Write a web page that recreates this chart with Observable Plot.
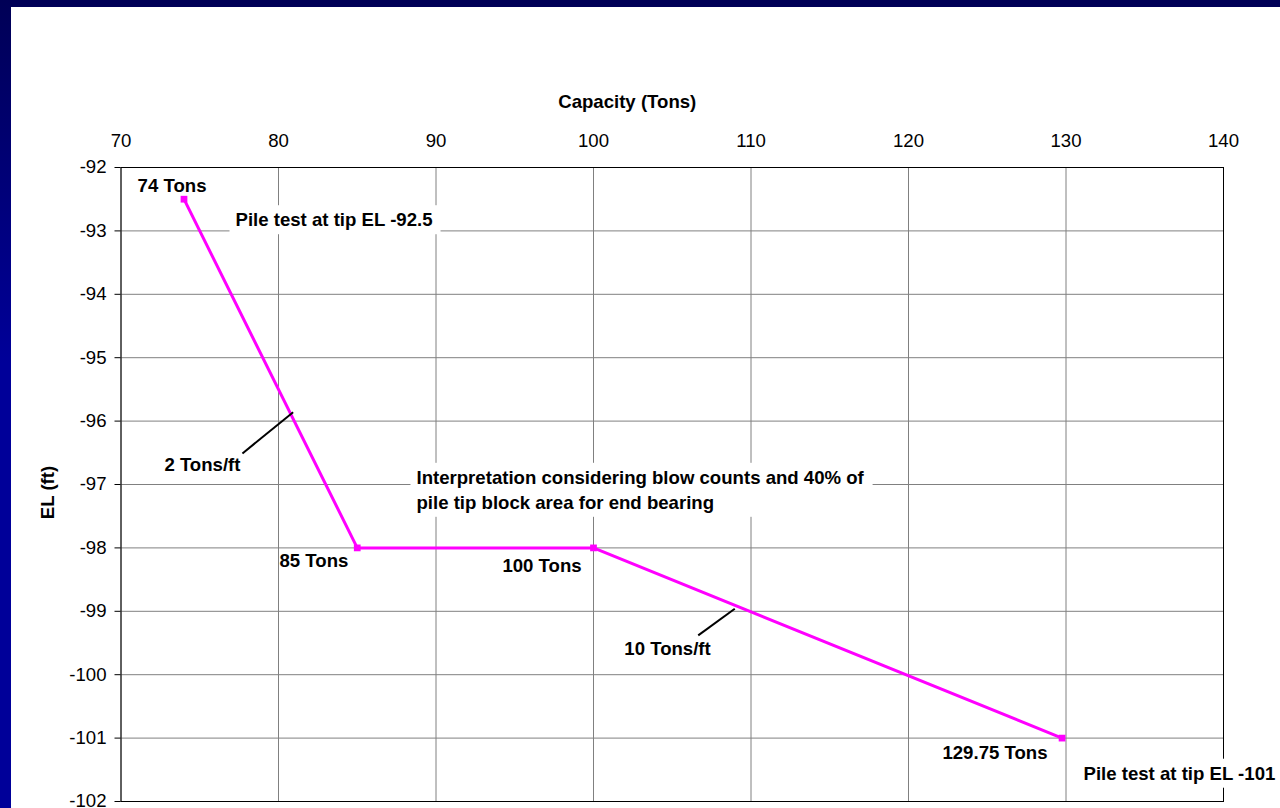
<!DOCTYPE html>
<html>
<head>
<meta charset="utf-8">
<script src="https://cdn.jsdelivr.net/npm/d3@7"></script>
<script src="https://cdn.jsdelivr.net/npm/@observablehq/plot@0.6"></script>
<style>
  html, body { margin: 0; padding: 0; }
  body {
    width: 1280px; height: 808px; overflow: hidden;
    background: linear-gradient(to bottom, #000056 0%, #000099 45%, #000099 100%);
  }
  #chart {
    position: absolute; left: 11px; top: 7px;
    width: 1269px; height: 801px; background: #ffffff;
  }
  #chart svg { display: block; overflow: visible; }
</style>
</head>
<body>
<div id="chart"></div>
<script>
// Pile capacity versus tip elevation
const capacity = [74, 85, 100, 129.75];
const elevation = [-92.5, -98, -98, -101];

// Axis ticks
const xTicks = [70, 80, 90, 100, 110, 120, 130, 140];
const yTicks = [-92, -93, -94, -95, -96, -97, -98, -99, -100, -101, -102];

// Value labels beside the points
const pointLabels = ["74 Tons", "85 Tons", "100 Tons", "129.75 Tons"];
const pointLabelX = [73.24, 82.25, 96.73, 125.49];
const pointLabelY = [-92.29, -98.21, -98.29, -101.23];

// Boxed notes (left-aligned)
const notes = [
  "Pile test at tip EL -92.5",
  "Interpretation considering blow counts and 40% of\npile tip block area for end bearing",
  "Pile test at tip EL -101"
];
const noteX = [77.27, 88.76, 131.11];
const noteY = [-92.80, -97.06, -101.53];

// Slope call-outs with leader lines
const slopeLabels = ["2 Tons/ft", "10 Tons/ft"];
const slopeLabelX = [75.17, 104.7];
const slopeLabelY = [-96.70, -99.60];
const leaderX1 = [77.71, 106.65];
const leaderY1 = [-96.51, -99.38];
const leaderX2 = [80.93, 108.97];
const leaderY2 = [-95.86, -98.96];

const xTitle = "Capacity (Tons)";
const yTitle = "EL (ft)";

const curve = capacity.map((c, i) => ({capacity: c, elevation: elevation[i]}));
const pts = pointLabels.map((t, i) => ({text: t, x: pointLabelX[i], y: pointLabelY[i]}));
const noteRows = notes.map((t, i) => ({text: t, x: noteX[i], y: noteY[i]}));
const slopeRows = slopeLabels.map((t, i) => ({text: t, x: slopeLabelX[i], y: slopeLabelY[i]}));
const leaders = leaderX1.map((x, i) => ({x1: x, y1: leaderY1[i], x2: leaderX2[i], y2: leaderY2[i]}));

const FONT = "'Liberation Sans', Arial, Helvetica, sans-serif";
const SIZE = 18.6;

const chart = Plot.plot({
  width: 1269,
  height: 801,
  marginLeft: 109.5,
  marginRight: 57,
  marginTop: 160,
  marginBottom: 7,
  style: {fontFamily: FONT, fontSize: SIZE + "px", color: "#000", background: "#fff"},
  x: {domain: [70, 140], ticks: xTicks},
  y: {domain: [-102, -92], ticks: yTicks},
  marks: [
    Plot.ruleX(xTicks, {stroke: "#808080", strokeWidth: 1}),
    Plot.ruleY(yTicks, {stroke: "#808080", strokeWidth: 1}),
    Plot.axisX({anchor: "top", ticks: xTicks, tickSize: 0, tickPadding: 21, tickFormat: d => String(d), label: null, fontSize: SIZE}),
    Plot.axisY({anchor: "left", ticks: yTicks, tickSize: 6, tickPadding: 8.5, tickFormat: d => String(d), label: null, fontSize: SIZE, stroke: "#000"}),
    Plot.frame({stroke: "#000", strokeWidth: 1}),
    Plot.text([xTitle], {frameAnchor: "top", lineAnchor: "middle", textAnchor: "middle", dx: -45, dy: -65.5, fontWeight: "bold", fontSize: SIZE}),
    Plot.text([yTitle], {frameAnchor: "left", lineAnchor: "middle", textAnchor: "middle", dx: -72.5, dy: 8, rotate: -90, fontWeight: "bold", fontSize: SIZE}),
    Plot.line(curve, {x: "capacity", y: "elevation", stroke: "#ff00ff", strokeWidth: 3}),
    Plot.dot(curve, {x: "capacity", y: "elevation", symbol: "square", r: 3.8, fill: "#ff00ff"}),
    Plot.link(leaders, {x1: "x1", y1: "y1", x2: "x2", y2: "y2", stroke: "#000", strokeWidth: 2}),
    Plot.text(pts, {x: "x", y: "y", text: "text", fontWeight: "bold", fontSize: SIZE}),
    Plot.text(slopeRows, {x: "x", y: "y", text: "text", fontWeight: "bold", fontSize: SIZE}),
    Plot.text(noteRows, {x: "x", y: "y", text: "text", textAnchor: "start", lineHeight: 25 / SIZE, fontWeight: "bold", fontSize: SIZE, className: "note-box"})
  ]
});

document.getElementById("chart").append(chart);

// White boxes behind the notes, hiding the grid and frame beneath them
d3.select(chart).selectAll("g.note-box text").each(function () {
  const b = this.getBBox();
  const rect = document.createElementNS("http://www.w3.org/2000/svg", "rect");
  rect.setAttribute("x", b.x - 6);
  rect.setAttribute("y", b.y - 4);
  rect.setAttribute("width", b.width + 14);
  rect.setAttribute("height", b.height + 8);
  rect.setAttribute("fill", "#fff");
  rect.setAttribute("stroke", "none");
  const t = this.getAttribute("transform");
  if (t) rect.setAttribute("transform", t);
  this.parentNode.insertBefore(rect, this);
});
</script>
</body>
</html>
